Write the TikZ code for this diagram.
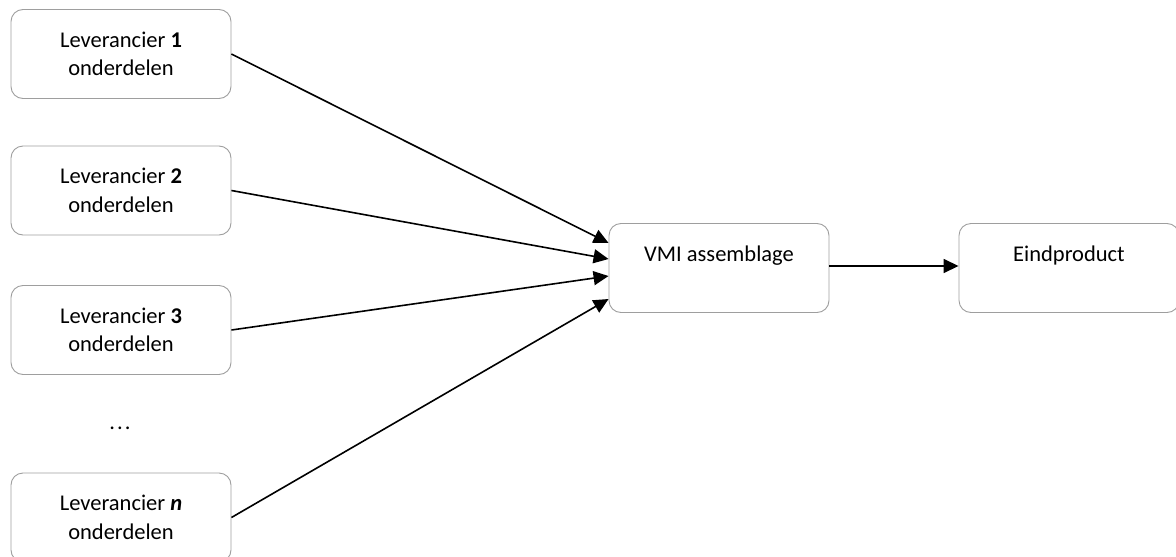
\documentclass[tikz,border=0pt]{standalone}
\usepackage{fontspec}
\setmainfont{Carlito}
\usetikzlibrary{arrows.meta}
\begin{document}
\begin{tikzpicture}[x=1pt,y=-1pt,
  box/.style={draw=black!38, line width=0.9pt, rounded corners=12pt,
    minimum width=220pt, minimum height=89pt, inner sep=0pt,
    align=center, font=\fontsize{22.5}{28.5}\selectfont},
  arr/.style={line width=1.6pt, -{Triangle[length=15pt,width=14pt]}}]
\useasboundingbox (0,0) rectangle (1176,557);
\clip (0,0) rectangle (1176,557);
% suppliers
\node[box] (s1) at (121,54) {Leverancier \textbf{1}\\onderdelen};
\node[box] (s2) at (121,190.5) {Leverancier \textbf{2}\\onderdelen};
\node[box] (s3) at (121,330) {Leverancier \textbf{3}\\onderdelen};
\node[font=\fontsize{22.5}{27}\selectfont] (dots) at (120,428) {.\kern2pt.\kern2pt.};
\node[box] (sn) at (121,517.5) {Leverancier \textbf{\textit{n}}\\onderdelen};
% assembly and final product
\node[box] (vmi) at (719,268) {VMI assemblage\\\mbox{}};
\node[box] (eind) at (1069,268) {Eindproduct\\\mbox{}};
% flows
\draw[arr] (s1.east) -- ([yshift=25pt]vmi.west);
\draw[arr] (s2.east) -- ([yshift=9pt]vmi.west);
\draw[arr] (s3.east) -- ([yshift=-8pt]vmi.west);
\draw[arr] (sn.east) -- ([yshift=-31pt]vmi.west);
\draw[arr] ([yshift=2pt]vmi.east) -- ([yshift=2pt]eind.west);
\end{tikzpicture}
\end{document}
